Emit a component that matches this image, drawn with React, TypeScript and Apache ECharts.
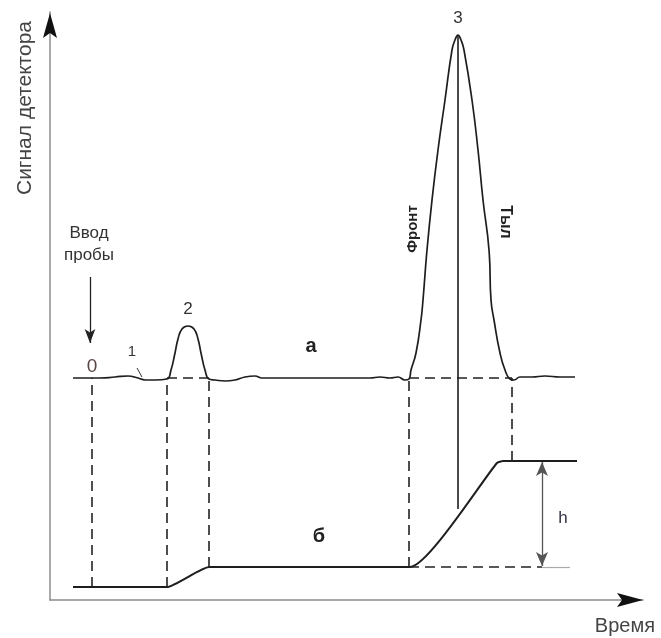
import React, { useEffect, useRef } from "react";
import * as echarts from "echarts";

// Chromatogram (a): time / detector signal
const chromTime = [23, 50, 65, 78, 88, 95, 105, 117, 121, 125, 128, 132, 138, 144, 148, 151, 155, 159, 165, 175, 185, 195, 205, 212, 320, 330, 340, 348, 355, 359, 361, 366, 371, 373, 377, 382, 388, 395, 402, 405, 408, 411, 414, 422, 428, 433, 439, 441, 444, 450, 455, 460, 464, 470, 482, 495, 510, 525];
const chromSignal = [222, 222, 223, 224, 222, 220, 220, 221, 230, 247, 261, 271, 274, 271, 261, 247, 230, 221, 220, 219, 220, 223, 224, 222, 222, 223, 222, 223, 220, 221, 230, 247, 280, 300, 350, 400, 450, 500, 550, 560, 565, 560, 550, 500, 450, 400, 350, 300, 280, 247, 230, 221, 220, 223, 223, 224, 223, 223];

// Integral chromatogram (б)
const integTime = [23, 117, 159, 360, 447, 453, 460, 527];
const integSignal = [13, 13, 33, 33, 137, 139, 139, 139];

// Reference levels
const baselineA = 222;
const baselineB = 33;
const startB = 13;
const stepTop = 139;
const injectTime = 42;
const peak2Start = 117;
const peak2End = 159;
const peak3Start = 359;
const peak3End = 462;
const peak3Apex = 408;
const peak3Top = 565;
const peak3Cut = 91;
const hTime = 492;

const AXIS_MAX_X = 593;
const AXIS_MAX_Y = 588;

export default function App() {
  const ref = useRef<HTMLDivElement>(null);
  useEffect(() => {
    document.body.style.margin = "0";
    const chart = echarts.init(ref.current!, null, { renderer: "svg" });
    const dark = "#1e1e1e";
    const font = "Liberation Sans, Arial, sans-serif";
    const dashed = { color: "#222", width: 1.6, type: [10, 6] as any };
    const seg = (x1: number, y1: number, x2: number, y2: number) => [
      { coord: [x1, y1] },
      { coord: [x2, y2] },
    ];
    const txt = (x: number, y: number, text: string, f: string, fill = "#333", rotation = 0, align = "center") => ({
      type: "text",
      x,
      y,
      rotation,
      style: { text, font: `${f} ${font}`, fill, align, verticalAlign: "middle" },
    });
    chart.setOption({
      animation: false,
      grid: { left: 50, top: 12, width: 593, height: 588 },
      xAxis: {
        type: "value",
        min: 0,
        max: AXIS_MAX_X,
        axisLine: { show: true, onZero: false, lineStyle: { color: "#8c8c8c", width: 1.5 } },
        axisTick: { show: false },
        axisLabel: { show: false },
        splitLine: { show: false },
      },
      yAxis: {
        type: "value",
        min: 0,
        max: AXIS_MAX_Y,
        axisLine: { show: true, onZero: false, lineStyle: { color: "#8c8c8c", width: 1.5 } },
        axisTick: { show: false },
        axisLabel: { show: false },
        splitLine: { show: false },
      },
      series: [
        {
          name: "a",
          type: "line",
          data: chromTime.map((t, i) => [t, chromSignal[i]]),
          showSymbol: false,
          smooth: 0.5,
          lineStyle: { color: dark, width: 1.7 },
          z: 3,
          markLine: {
            silent: true,
            symbol: "none",
            label: { show: false },
            lineStyle: dashed,
            data: [
              seg(injectTime, startB, injectTime, baselineA),
              seg(peak2Start, startB, peak2Start, baselineA),
              seg(peak2End, baselineB, peak2End, baselineA),
              seg(peak3Start, baselineB, peak3Start, baselineA),
              seg(peak3End, stepTop, peak3End, baselineA),
              seg(peak2Start, baselineA, peak2End, baselineA),
              seg(peak3Start, baselineA, peak3End, baselineA),
              seg(peak3Start, baselineB, hTime, baselineB),
            ],
          },
        },
        {
          name: "б",
          type: "line",
          data: integTime.map((t, i) => [t, integSignal[i]]),
          showSymbol: false,
          smooth: 0.15,
          lineStyle: { color: dark, width: 2 },
          z: 3,
          markLine: {
            silent: true,
            symbol: "none",
            label: { show: false },
            data: [
              [
                { coord: [peak3Apex, peak3Top], lineStyle: { color: dark, width: 1.6, type: "solid" } },
                { coord: [peak3Apex, peak3Cut] },
              ],
              [
                { coord: [hTime, baselineB], lineStyle: { color: "#aaa", width: 1.2, type: "solid" } },
                { coord: [hTime + 28, baselineB] },
              ],
            ],
          },
        },
        {
          name: "h",
          type: "line",
          data: [],
          markLine: {
            silent: true,
            symbol: ["arrow", "arrow"],
            symbolSize: [9, 14],
            label: { show: false },
            lineStyle: { color: "#555", width: 1.3, type: "solid" },
            data: [seg(hTime, stepTop - 1, hTime, baselineB + 1)],
          },
        },
        {
          name: "inject",
          type: "line",
          data: [],
          markLine: {
            silent: true,
            symbol: ["none", "arrow"],
            symbolSize: [8, 14],
            label: { show: false },
            lineStyle: { color: "#222", width: 1.3, type: "solid" },
            data: [seg(40, 323, 40, 257)],
          },
        },
        {
          name: "leader",
          type: "line",
          data: [],
          markLine: {
            silent: true,
            symbol: "none",
            label: { show: false },
            lineStyle: { color: "#333", width: 1, type: "solid" },
            data: [seg(87, 232, 92, 223)],
          },
        },
      ],
      graphic: [
        { type: "polygon", shape: { points: [[50, 13], [57, 38], [50, 33], [43, 38]] }, style: { fill: "#111" }, z: 10 },
        { type: "polygon", shape: { points: [[643, 600], [617, 593], [622, 600], [617, 607]] }, style: { fill: "#111" }, z: 10 },
        txt(23, 108, "Сигнал детектора", "21px", "#444", Math.PI / 2),
        txt(655, 625, "Время", "20px", "#444", 0, "right"),
        txt(89, 232, "Ввод", "17px"),
        txt(89, 254, "пробы", "17px"),
        txt(92, 365, "0", "19px", "#5a4545"),
        txt(132, 350, "1", "15px"),
        txt(188, 308, "2", "17px"),
        txt(458, 17, "3", "17px"),
        txt(311, 345, "а", "bold 20px", "#222"),
        txt(319, 535, "б", "bold 20px", "#222"),
        txt(563, 517, "h", "17px", "#334"),
        txt(411, 229, "Фронт", "bold 15px", "#222", Math.PI / 2),
        txt(506, 222, "Тыл", "bold 16px", "#222", -Math.PI / 2),
      ],
    });
    return () => chart.dispose();
  }, []);
  return <div ref={ref} style={{ position: "fixed", left: 0, top: 0, width: 661, height: 638 }} />;
}
